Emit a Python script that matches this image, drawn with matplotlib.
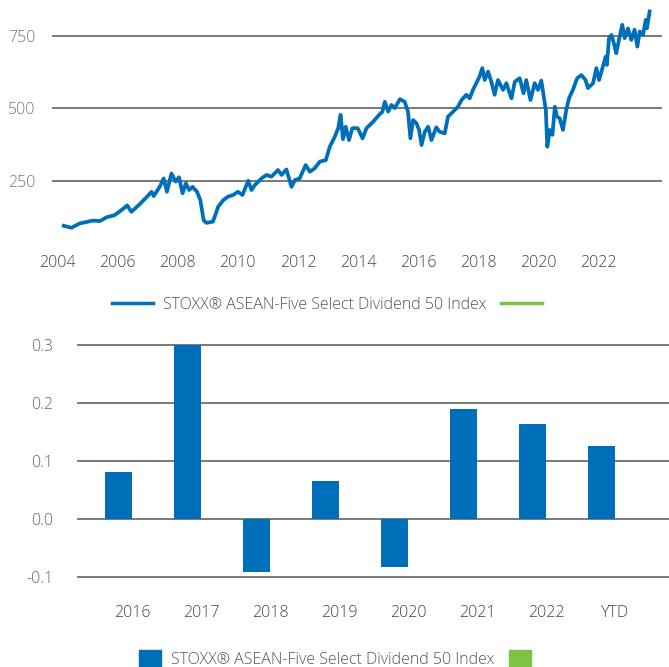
import matplotlib.pyplot as plt
from matplotlib.lines import Line2D
from matplotlib.patches import Patch
import numpy as np

plt.rcParams['font.family'] = ['Open Sans', 'DejaVu Sans']
plt.rcParams['font.weight'] = 'light'

# index level (decimal years)
years = [2004.22, 2004.48, 2004.75, 2005.20, 2005.42, 2005.64, 2005.92, 2006.14, 2006.33, 2006.47,
         2006.75, 2006.97, 2007.14, 2007.21, 2007.41, 2007.54, 2007.65, 2007.80, 2007.94, 2008.05,
         2008.17, 2008.28, 2008.39, 2008.50, 2008.65, 2008.76, 2008.87, 2008.96, 2009.18, 2009.35,
         2009.52, 2009.68, 2009.85, 2010.01, 2010.16, 2010.35, 2010.46, 2010.57, 2010.79, 2010.96,
         2011.12, 2011.34, 2011.46, 2011.62, 2011.79, 2011.90, 2012.06, 2012.26, 2012.40, 2012.56,
         2012.73, 2012.93, 2013.06, 2013.23, 2013.34, 2013.42, 2013.50, 2013.59, 2013.70, 2013.81,
         2013.99, 2014.15, 2014.28, 2014.50, 2014.70, 2014.81, 2014.89, 2015.00, 2015.11, 2015.22,
         2015.39, 2015.55, 2015.66, 2015.74, 2015.83, 2015.94, 2016.03, 2016.11, 2016.22, 2016.33,
         2016.44, 2016.60, 2016.71, 2016.88, 2016.99, 2017.16, 2017.32, 2017.44, 2017.60, 2017.71,
         2017.82, 2017.93, 2018.04, 2018.13, 2018.21, 2018.32, 2018.43, 2018.54, 2018.65, 2018.82,
         2018.93, 2019.04, 2019.10, 2019.21, 2019.37, 2019.50, 2019.59, 2019.73, 2019.87, 2019.98,
         2020.09, 2020.17, 2020.24, 2020.29, 2020.37, 2020.46, 2020.54, 2020.61, 2020.70, 2020.81,
         2020.92, 2021.01, 2021.14, 2021.28, 2021.42, 2021.56, 2021.64, 2021.81, 2021.92, 2022.01,
         2022.12, 2022.23, 2022.27, 2022.34, 2022.42, 2022.50, 2022.58, 2022.67, 2022.78, 2022.86,
         2022.97, 2023.08, 2023.19, 2023.28, 2023.36, 2023.47, 2023.56, 2023.60, 2023.69]
index_level = [96, 89, 104, 114, 112, 125, 133, 150, 166, 144,
               171, 194, 213, 198, 230, 259, 213, 276, 248, 263,
               208, 242, 219, 230, 213, 184, 115, 106, 110, 161,
               184, 196, 202, 213, 202, 251, 219, 236, 259, 271,
               265, 288, 271, 290, 230, 253, 259, 305, 282, 294,
               317, 322, 368, 403, 432, 478, 394, 437, 391, 432,
               432, 397, 432, 454, 478, 489, 523, 489, 512, 501,
               532, 523, 489, 397, 460, 449, 426, 374, 420, 437,
               391, 435, 420, 414, 472, 489, 506, 529, 547, 535,
               564, 587, 610, 639, 598, 627, 592, 547, 598, 564,
               587, 552, 535, 592, 604, 552, 598, 529, 587, 564,
               596, 541, 495, 368, 426, 409, 506, 472, 466, 426,
               495, 535, 564, 604, 615, 598, 570, 587, 639, 598,
               639, 679, 650, 742, 753, 725, 690, 736, 788, 742,
               776, 736, 771, 713, 765, 753, 805, 776, 834]

# annual returns
categories = ['2016', '2017', '2018', '2019', '2020', '2021', '2022', 'YTD']
returns = [0.081, 0.300, -0.091, 0.065, -0.083, 0.190, 0.164, 0.126]
benchmark = [np.nan] * len(categories)

label = 'STOXX® ASEAN-Five Select Dividend 50 Index'
blue = '#006fb9'
green = '#7dc242'
grid_c = '#6e6e6e'

fig = plt.figure(figsize=(6.69, 6.67), dpi=100)

# ---- line chart
ax1 = fig.add_axes([0.0777, 0.640, 0.9118, 0.348])
ax1.plot(years, index_level, color=blue, lw=2.7, solid_joinstyle='round')
ax1.set_xlim(2003.83, 2024.1)
ax1.set_ylim(46.5, 846)
ax1.set_yticks([250, 500, 750])
ax1.set_xticks(range(2004, 2023, 2))
ax1.grid(axis='y', color=grid_c, lw=1.3)
ax1.set_axisbelow(True)
for s in ax1.spines.values():
    s.set_visible(False)
ax1.tick_params(length=0, labelsize=11.5)
ax1.tick_params(axis='y', pad=12, labelcolor='#777777')
ax1.tick_params(axis='x', pad=11, labelcolor='#444444')

fig.legend(handles=[Line2D([], [], color=blue, lw=2.5), Line2D([], [], color=green, lw=2.5)],
           labels=[label, ''], ncol=2, loc='center', bbox_to_anchor=(0.496, 0.543),
           frameon=False, fontsize=11.5, handlelength=2.6, handletextpad=0.6,
           columnspacing=0.9, labelcolor='#555555')

# ---- bar chart
ax2 = fig.add_axes([0.115, 0.1175, 0.885, 0.3695])
x = np.arange(len(categories))
w = 0.39
ax2.bar(x - w / 2, returns, w, color=blue)
ax2.bar(x + w / 2, benchmark, w, color=green)
ax2.set_xlim(-0.797, 7.78)
ax2.set_ylim(-0.12, 0.305)
ax2.set_yticks([-0.1, 0.0, 0.1, 0.2, 0.3])
ax2.set_yticklabels(['-0.1', '0.0', '0.1', '0.2', '0.3'])
ax2.set_xticks(x)
ax2.set_xticklabels(categories)
ax2.grid(axis='y', color=grid_c, lw=1.3)
ax2.set_axisbelow(True)
for s in ax2.spines.values():
    s.set_visible(False)
ax2.tick_params(length=0, labelsize=11.5)
ax2.tick_params(axis='y', pad=17, labelcolor='#666666')
ax2.tick_params(axis='x', pad=12, labelcolor='#444444')

fig.legend(handles=[Patch(color=blue), Patch(color=green)],
           labels=[label, ''], ncol=2, loc='center', bbox_to_anchor=(0.508, 0.012),
           frameon=False, fontsize=11.5, handlelength=1.4, handleheight=1.4,
           handletextpad=0.6, columnspacing=0.9, labelcolor='#555555')

fig.savefig('out.png', dpi=100)
